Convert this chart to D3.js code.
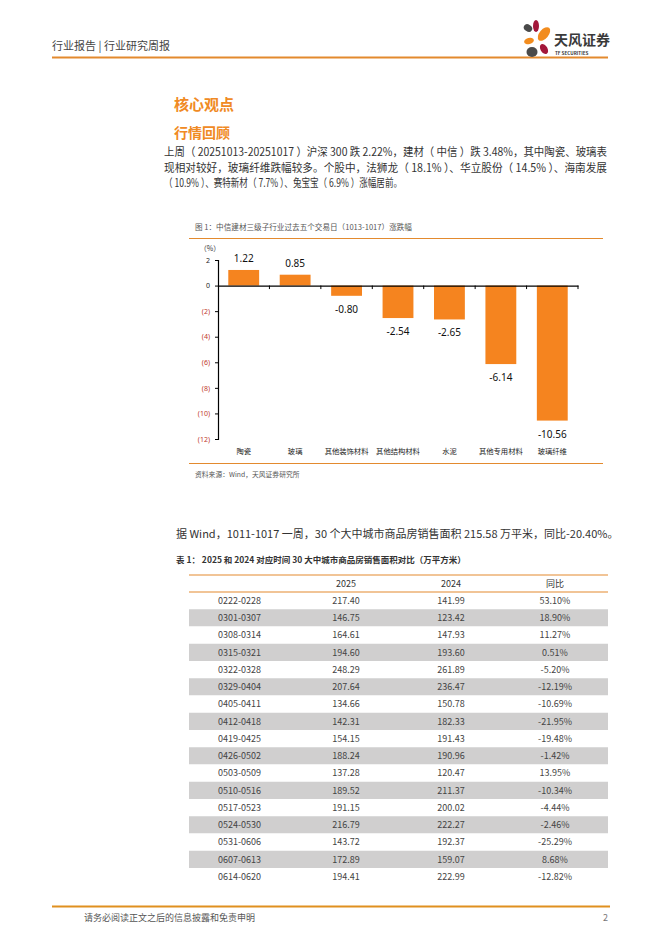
<!DOCTYPE html>
<html><head><meta charset="utf-8">
<script src="https://cdn.jsdelivr.net/npm/d3@7"></script>
<style>
html,body{margin:0;padding:0;background:#fff;}
svg{display:block;font-family:"Noto Sans CJK SC","Noto Sans",sans-serif;}
</style></head>
<body>
<svg id="page" width="662" height="936"></svg>
<script>
// ---- chart data ----
const categories = ["陶瓷","玻璃","其他装饰材料","其他结构材料","水泥","其他专用材料","玻璃纤维"];
const changes = [1.22, 0.85, -0.80, -2.54, -2.65, -6.14, -10.56];
const yTicks = [2, 0, -2, -4, -6, -8, -10, -12];

// ---- table data ----
const tableHeader = ["", "2025", "2024", "同比"];
const periods = ["0222-0228","0301-0307","0308-0314","0315-0321","0322-0328","0329-0404","0405-0411","0412-0418","0419-0425","0426-0502","0503-0509","0510-0516","0517-0523","0524-0530","0531-0606","0607-0613","0614-0620"];
const area2025 = ["217.40","146.75","164.61","194.60","248.29","207.64","134.66","142.31","154.15","188.24","137.28","189.52","191.15","216.79","143.72","172.89","194.41"];
const area2024 = ["141.99","123.42","147.93","193.60","261.89","236.47","150.78","182.33","191.43","190.96","120.47","211.37","200.02","222.27","192.37","159.07","222.99"];
const yoy = ["53.10%","18.90%","11.27%","0.51%","-5.20%","-12.19%","-10.69%","-21.95%","-19.48%","-1.42%","13.95%","-10.34%","-4.44%","-2.46%","-25.29%","8.68%","-12.82%"];

const ORANGE = "#F5841F", LINE = "#E38A2E", TXT = "#333";
const svg = d3.select("#page");

// ---- header ----
svg.append("text").attr("x",52).attr("y",50).attr("font-size",11).attr("fill","#444")
  .text("行业报告 | 行业研究周报");
svg.append("line").attr("x1",52).attr("x2",608).attr("y1",57.5).attr("y2",57.5)
  .attr("stroke",LINE).attr("stroke-width",2);
// logo
const logo = svg.append("g").attr("transform","translate(520,20)");
logo.append("ellipse").attr("cx",8).attr("cy",8).attr("rx",4.5).attr("ry",3.5).attr("transform","rotate(35 8 8)").attr("fill","#4a4a4a");
logo.append("ellipse").attr("cx",16).attr("cy",6).attr("rx",3).attr("ry",6).attr("fill","#a3173a");
logo.append("ellipse").attr("cx",24).attr("cy",14).attr("rx",4.5).attr("ry",8).attr("transform","rotate(40 24 14)").attr("fill","#F28C1E");
logo.append("ellipse").attr("cx",9).attr("cy",21).attr("rx",5).attr("ry",3).attr("transform","rotate(-15 9 21)").attr("fill","#F28C1E");
logo.append("ellipse").attr("cx",24).attr("cy",29).attr("rx",3.5).attr("ry",5.5).attr("transform","rotate(-30 24 29)").attr("fill","#a3173a");
logo.append("ellipse").attr("cx",12).attr("cy",32).attr("rx",5.5).attr("ry",5).attr("fill","#4a4a4a");
svg.append("text").attr("x",554).attr("y",45).attr("font-size",14).attr("font-weight",700).attr("fill","#3a3a3a").text("天风证券");
svg.append("text").attr("x",555).attr("y",55).attr("font-size",4.6).attr("font-weight",700).attr("fill","#3a3a3a").text("TF SECURITIES");

// ---- headings ----
svg.append("text").attr("x",174).attr("y",110).attr("font-size",15).attr("font-weight",700).attr("fill","#F08A24").text("核心观点");
svg.append("text").attr("x",174).attr("y",138).attr("font-size",14).attr("font-weight",700).attr("fill","#F08A24").text("行情回顾");
const para = [
 "上周（ 20251013-20251017 ）沪深 300 跌 2.22%，建材（ 中信 ）跌 3.48%，其中陶瓷、玻璃表",
 "现相对较好，玻璃纤维跌幅较多。个股中，法狮龙（ 18.1% ）、华立股份（ 14.5% ）、海南发展",
 "（ 10.9% ）、赛特新材（ 7.7% ）、兔宝宝（ 6.9% ）涨幅居前。"];
const paraLen = [443, 443, 238];
para.forEach((t,i)=>{
  svg.append("text").attr("x",164).attr("y",156+i*15.5).attr("font-size",11.2).attr("fill",TXT).text(t)
    .attr("textLength",paraLen[i]).attr("lengthAdjust","spacingAndGlyphs");
});

// ---- figure ----
svg.append("text").attr("x",195).attr("y",230).attr("font-size",7.6).attr("fill","#555")
  .text("图 1：中信建材三级子行业过去五个交易日（1013-1017）涨跌幅");
svg.append("line").attr("x1",189).attr("x2",603).attr("y1",238.5).attr("y2",238.5).attr("stroke",LINE).attr("stroke-width",1);
svg.append("line").attr("x1",189).attr("x2",603).attr("y1",463.5).attr("y2",463.5).attr("stroke",LINE).attr("stroke-width",1);
svg.append("text").attr("x",195).attr("y",477).attr("font-size",6.8).attr("fill","#555").text("资料来源：Wind，天风证券研究所");

const x = d3.scaleBand().domain(categories).range([218,578]).paddingInner(0.4).paddingOuter(0.2);
const xb = d3.scaleBand().domain(categories).range([218,578]);
const y = d3.scaleLinear().domain([-12,2]).range([439,260]);
const g = svg.append("g");
g.selectAll("rect.bar").data(changes).join("rect").attr("class","bar")
  .attr("x",(d,i)=>x(categories[i])).attr("width",x.bandwidth())
  .attr("y",d=>y(Math.max(0,d))).attr("height",d=>Math.abs(y(d)-y(0)))
  .attr("fill",ORANGE);
// y axis
const yAxis = g.append("g").attr("transform","translate(218,0)")
  .call(d3.axisLeft(y).tickValues(yTicks).tickSize(3).tickFormat(d=>d<0?`(${-d})`:`${d}`));
yAxis.select(".domain").attr("stroke","#000").attr("stroke-width",1.2);
yAxis.selectAll(".tick line").attr("stroke","#000");
yAxis.selectAll(".tick text").attr("font-size",7).attr("font-family","Noto Sans, sans-serif").attr("x",-8)
  .attr("fill",d=>d<0?"#c0392b":"#222");
g.append("text").attr("x",210).attr("y",251).attr("font-size",7).attr("fill","#333").text("（%）").attr("text-anchor","middle");
// x axis at zero
const xAxis = g.append("g").attr("transform",`translate(0,${y(0)})`)
  .call(d3.axisBottom(xb).tickSize(0).tickFormat(""));
xAxis.select(".domain").attr("stroke","#000").attr("stroke-width",1.2);
xAxis.selectAll(".bt").data(categories.map(c=>xb(c)+xb.bandwidth())).join("line").attr("class","bt")
  .attr("x1",d=>d).attr("x2",d=>d).attr("y1",0).attr("y2",3.5).attr("stroke","#000");
// category labels
g.selectAll("text.cat").data(categories).join("text").attr("class","cat")
  .attr("x",d=>xb(d)+xb.bandwidth()/2).attr("y",454).attr("text-anchor","middle")
  .attr("font-size",7.3).attr("fill","#222").text(d=>d);
// value labels
g.selectAll("text.val").data(changes).join("text").attr("class","val")
  .attr("x",(d,i)=>x(categories[i])+x.bandwidth()/2)
  .attr("y",d=>d>=0?y(d)-8:y(d)+17).attr("text-anchor","middle")
  .attr("font-size",10).attr("font-family","Noto Sans, sans-serif").attr("fill","#111")
  .text(d=>d.toFixed(2));

// ---- paragraph 2 ----
svg.append("text").attr("x",176).attr("y",538).attr("font-size",11).attr("fill",TXT)
  .text("据 Wind，1011-1017 一周，30 个大中城市商品房销售面积 215.58 万平米，同比-20.40%。");

// ---- table ----
svg.append("text").attr("x",176).attr("y",563).attr("font-size",8.5).attr("font-weight",700).attr("fill","#333")
  .text("表 1：  2025 和 2024 对应时间 30 大中城市商品房销售面积对比（万平方米）");
const tL = 189, tR = 608, tTop = 575, hdrH = 17, rowH = 17.25;
const colX = [218, 346, 451, 555];
const rowY = d3.scaleBand().domain(periods).range([tTop+hdrH, tTop+hdrH+rowH*periods.length]);
const rows = periods.map((p,i)=>[p, area2025[i], area2024[i], yoy[i]]);
svg.selectAll("rect.row").data(periods).join("rect").attr("class","row")
  .attr("x",tL).attr("width",tR-tL).attr("y",d=>rowY(d)).attr("height",rowY.bandwidth())
  .attr("fill",(d,i)=>i%2===1?"#D0CFCF":"#fff");
svg.append("line").attr("x1",tL).attr("x2",tR).attr("y1",tTop).attr("y2",tTop).attr("stroke",LINE).attr("stroke-width",1.2);
svg.append("line").attr("x1",tL).attr("x2",tR).attr("y1",tTop+hdrH).attr("y2",tTop+hdrH).attr("stroke",LINE).attr("stroke-width",1.2);
tableHeader.forEach((h,j)=>{
  svg.append("text").attr("x",colX[j]).attr("y",tTop+hdrH/2+3.5).attr("text-anchor",j===0?"start":"middle")
    .attr("font-size",9).attr("fill","#333").text(h);
});
const rg = svg.selectAll("g.trow").data(rows).join("g").attr("class","trow")
  .attr("transform",(d,i)=>`translate(0,${rowY(periods[i])+rowY.bandwidth()/2+3.3})`);
rg.selectAll("text").data(d=>d).join("text")
  .attr("x",(d,j)=>colX[j]).attr("text-anchor",(d,j)=>j===0?"start":"middle")
  .attr("font-size",9).attr("fill","#444").text(d=>d);

// ---- footer ----
svg.append("line").attr("x1",52).attr("x2",610).attr("y1",906.5).attr("y2",906.5).attr("stroke","#E0901F").attr("stroke-width",2);
svg.append("text").attr("x",84).attr("y",921).attr("font-size",9).attr("fill","#555").text("请务必阅读正文之后的信息披露和免责申明");
svg.append("text").attr("x",608).attr("y",921).attr("font-size",9).attr("fill","#777").attr("text-anchor","end").text("2");
</script>
</body></html>
